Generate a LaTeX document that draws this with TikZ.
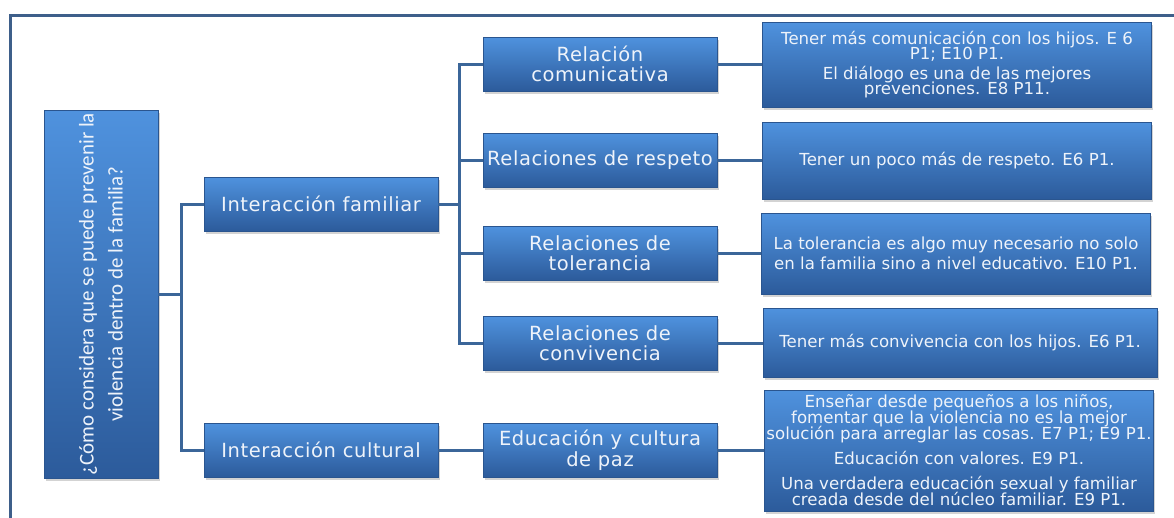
\documentclass[tikz,border=0pt]{standalone}
\usepackage{fontspec}
\setmainfont{DejaVu Sans}
\newfontfamily\calibrifont{Carlito}
\newfontfamily\widefont[LetterSpace=3]{DejaVu Sans}
\usepackage{xcolor}
\usepackage{tikz}
\usetikzlibrary{positioning, calc, shadows}

\definecolor{boxtop}{HTML}{4F92DE}
\definecolor{boxbottom}{HTML}{2C5B9B}
\definecolor{boxline}{HTML}{2A558F}
\definecolor{boxtext}{HTML}{EEF3FA}
\definecolor{linkblue}{HTML}{3B6699}
\definecolor{framegray}{HTML}{3E5F8A}
\newcommand{\tightlines}{\lineskiplimit=-8pt\relax}

\begin{document}
\begin{tikzpicture}[x=1pt, y=-1pt,
    box/.style={draw=boxline, line width=0.8pt, top color=boxtop, bottom color=boxbottom, text=boxtext, align=center, inner sep=1pt, drop shadow={opacity=0.35, shadow xshift=1.5pt, shadow yshift=-3pt}},
    topic/.style={box, minimum width=234pt, minimum height=54pt, font=\widefont\fontsize{19.5}{20.5}\selectfont\tightlines},
    note/.style={box, minimum width=389pt, font=\fontsize{16.6}{20}\selectfont\tightlines},
    link/.style={draw=linkblue, line width=3pt},
    framebox/.style={draw=framegray, line width=3pt}]
    \useasboundingbox (0,0) rectangle (1174,517);
    \draw[framebox] (10,520) |- (1176,15);
    \node[box, minimum width=114pt, minimum height=368pt] (root) at (101,294) {};
    \node[rotate=90, align=center, text=boxtext, font=\calibrifont\fontsize{21}{29}\selectfont] (question) at (root.center) {¿Cómo considera que se puede prevenir la\\violencia dentro de la familia?};
    \node[topic] (fam) at (321,204) {Interacción familiar};
    \node[topic] (cult) at (321,450) {Interacción cultural};
    \node[topic] (com) at (600,64) {Relación\\comunicativa};
    \node[topic] (res) at (600,160) {Relaciones de respeto};
    \node[topic] (tol) at (600,253) {Relaciones de\\tolerancia};
    \node[topic] (con) at (600,343) {Relaciones de\\convivencia};
    \node[topic] (edu) at (600,450) {Educación y cultura\\de paz};
    \node[note, minimum height=85pt, font=\fontsize{16.6}{15.5}\selectfont\tightlines] (comnote) at (957,64.5) {Tener más comunicación con los hijos. E 6\\P1; E10 P1.\\[4pt]El diálogo es una de las mejores\\prevenciones. E8 P11.};
    \node[note, minimum height=77pt] (resnote) at (957,160.5) {Tener un poco más de respeto. E6 P1.};
    \node[note, minimum height=81pt] (tolnote) at (956,253.5) {La tolerancia es algo muy necesario no solo\\en la familia sino a nivel educativo. E10 P1.};
    \node[note, minimum width=394pt, minimum height=69pt] (connote) at (960,342.5) {Tener más convivencia con los hijos. E6 P1.};
    \node[note, minimum height=121pt, font=\fontsize{16.6}{16}\selectfont\tightlines] (edunote) at (959,450.5) {Enseñar desde pequeños a los niños,\\fomentar que la violencia no es la mejor\\solución para arreglar las cosas. E7 P1; E9 P1.\\[9pt]Educación con valores. E9 P1.\\[9pt]Una verdadera educación sexual y familiar\\creada desde del núcleo familiar. E9 P1.};
    \coordinate (trunk) at ($(root.east)+(23,0)$);
    \coordinate (famfork) at ($(fam.east)+(21,0)$);
    \draw[link] (root.east) -- (trunk);
    \draw[link] (trunk) |- (fam.west);
    \draw[link] (trunk) |- (cult.west);
    \draw[link] (fam.east) -- (famfork);
    \foreach \t in {com,res,tol,con} \draw[link] (famfork) |- (\t.west);
    \foreach \t in {com,res,tol,con,edu} \draw[link] (\t.east) -- (\t.east -| \t note.west);
    \draw[link] (cult.east) -- (edu.west);
\end{tikzpicture}
\end{document}
